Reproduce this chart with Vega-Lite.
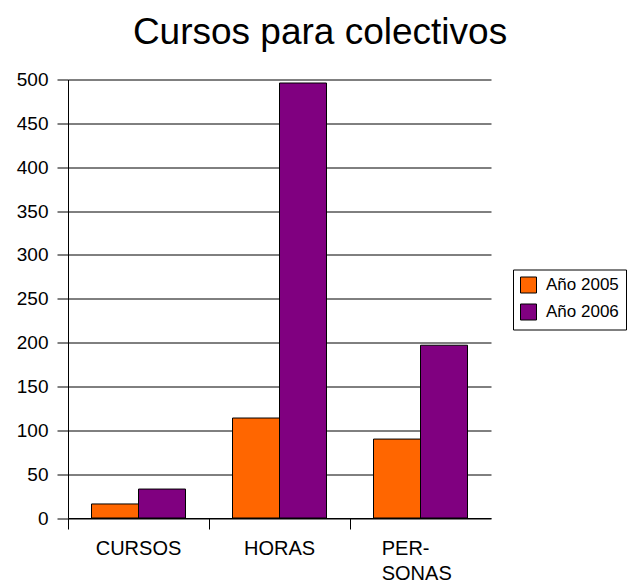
{
  "$schema": "https://vega.github.io/schema/vega-lite/v6.json",
  "width": 423,
  "height": 438.5,
  "autosize": "none",
  "padding": {"left": 68, "top": 79.5, "right": 137, "bottom": 63},
  "background": "white",
  "title": {
    "text": "Cursos para colectivos",
    "fontSize": 37,
    "font": "Liberation Sans",
    "fontWeight": "normal",
    "color": "black",
    "anchor": "middle",
    "frame": "group",
    "dx": 40.5,
    "baseline": "alphabetic",
    "offset": -10
  },
  "data": {
    "values": [
      {"categoria": "CURSOS", "serie": "Año 2005", "valor": 16},
      {"categoria": "CURSOS", "serie": "Año 2006", "valor": 33},
      {"categoria": "HORAS", "serie": "Año 2005", "valor": 114},
      {"categoria": "HORAS", "serie": "Año 2006", "valor": 496},
      {"categoria": "PERSONAS", "serie": "Año 2005", "valor": 90},
      {"categoria": "PERSONAS", "serie": "Año 2006", "valor": 197}
    ]
  },
  "mark": {"type": "bar", "stroke": "black", "strokeWidth": 1},
  "encoding": {
    "x": {
      "field": "categoria",
      "type": "nominal",
      "sort": ["CURSOS", "HORAS", "PERSONAS"],
      "scale": {"paddingInner": 0, "paddingOuter": 0},
      "axis": {
        "title": null,
        "bandPosition": 0,
        "labelAlign": {"condition": {"test": "datum.value == 'PERSONAS'", "value": "left"}, "value": "center"},
        "labelOffset": {"condition": {"test": "datum.value == 'PERSONAS'", "value": -38.8}, "value": 0},
        "labelAngle": 0,
        "labelFont": "Liberation Sans",
        "labelFontSize": 20,
        "labelColor": "black",
        "labelPadding": 9,
        "labelLineHeight": 25,
        "labelOverlap": false,
        "labelBound": false,
        "labelExpr": "datum.value == 'PERSONAS' ? ['PER-', 'SONAS'] : datum.value",
        "tickSize": 11,
        "tickColor": "black",
        "domainColor": "black",
        "grid": false
      }
    },
    "xOffset": {
      "field": "serie",
      "type": "nominal",
      "scale": {"paddingOuter": 0.5, "paddingInner": 0}
    },
    "y": {
      "field": "valor",
      "type": "quantitative",
      "scale": {"domain": [0, 500], "nice": false},
      "axis": {
        "title": null,
        "values": [0, 50, 100, 150, 200, 250, 300, 350, 400, 450, 500],
        "labelFont": "Liberation Sans",
        "labelFontSize": 19,
        "labelColor": "black",
        "labelPadding": 9,
        "tickSize": 11,
        "tickColor": "black",
        "domainColor": "black",
        "grid": true,
        "gridColor": "black",
        "gridOpacity": 1
      }
    },
    "color": {
      "field": "serie",
      "type": "nominal",
      "scale": {"range": ["#FF6600", "#800080"]},
      "legend": {
        "title": null,
        "orient": "none",
        "legendX": 445,
        "legendY": 190,
        "strokeColor": "black",
        "padding": 7,
        "symbolType": "square",
        "symbolSize": 256,
        "symbolStrokeColor": "black",
        "symbolStrokeWidth": 1,
        "symbolOpacity": 1,
        "labelFont": "Liberation Sans",
        "labelFontSize": 17,
        "labelColor": "black",
        "labelOffset": 9,
        "rowPadding": 6
      }
    }
  },
  "config": {"view": {"stroke": null}}
}
